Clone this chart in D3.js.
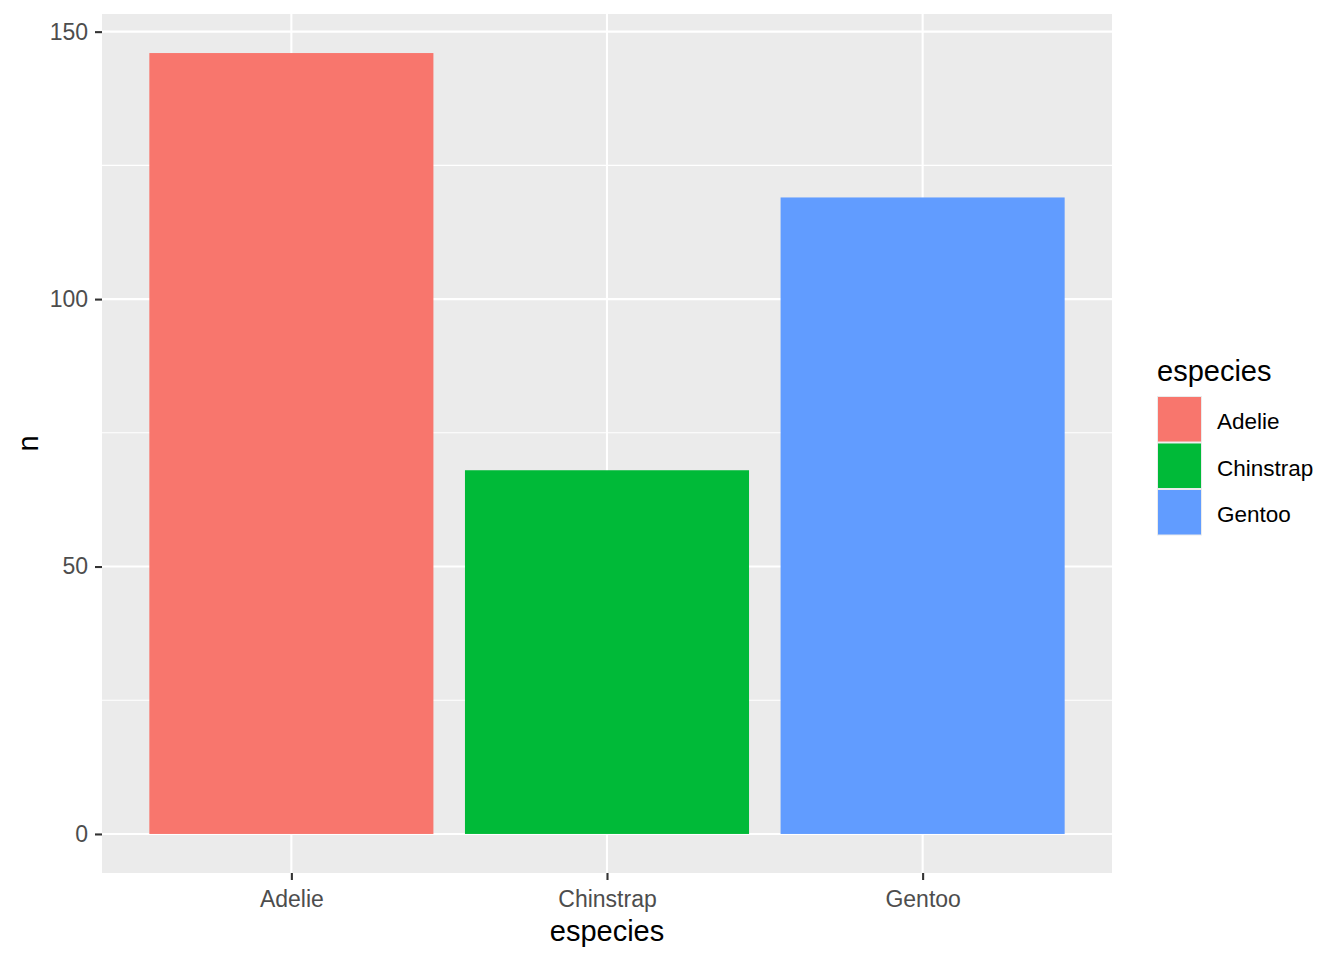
<!DOCTYPE html>
<html>
<head>
<meta charset="utf-8">
<script src="https://cdn.jsdelivr.net/npm/d3@7"></script>
<style>
  body { margin: 0; background: #fff; }
  text { font-family: "Liberation Sans", Arial, sans-serif; }
</style>
</head>
<body>
<svg width="1344" height="960"></svg>
<script>
// data
var especies = ["Adelie", "Chinstrap", "Gentoo"];
var counts = [146, 68, 119];
var colors = ["#F8766D", "#00BA38", "#619CFF"];
var yTicks = [0, 50, 100, 150];
var yMinor = [25, 75, 125];

var svg = d3.select("svg");

var panel = {left: 102, top: 14, right: 1112, bottom: 873};

var maxN = d3.max(counts);
var pad = maxN * 0.05;

var y = d3.scaleLinear()
    .domain([-pad, maxN + pad])
    .range([panel.bottom, panel.top]);

var x = d3.scaleLinear()
    .domain([0.4, especies.length + 0.6])
    .range([panel.left, panel.right]);

// panel background
svg.append("rect")
    .attr("x", panel.left)
    .attr("y", panel.top)
    .attr("width", panel.right - panel.left)
    .attr("height", panel.bottom - panel.top)
    .attr("fill", "#EBEBEB");

var grid = svg.append("g");

grid.selectAll(".minor")
    .data(yMinor)
    .enter()
    .append("line")
    .attr("x1", panel.left)
    .attr("x2", panel.right)
    .attr("y1", d => y(d))
    .attr("y2", d => y(d))
    .attr("stroke", "#fff")
    .attr("stroke-width", 1.1);

grid.selectAll(".major")
    .data(yTicks)
    .enter()
    .append("line")
    .attr("x1", panel.left)
    .attr("x2", panel.right)
    .attr("y1", d => y(d))
    .attr("y2", d => y(d))
    .attr("stroke", "#fff")
    .attr("stroke-width", 2.1);

grid.selectAll(".vmajor")
    .data(especies)
    .enter()
    .append("line")
    .attr("x1", (d, i) => x(i + 1))
    .attr("x2", (d, i) => x(i + 1))
    .attr("y1", panel.top)
    .attr("y2", panel.bottom)
    .attr("stroke", "#fff")
    .attr("stroke-width", 2.1);

// bars
svg.append("g")
    .selectAll("rect")
    .data(especies)
    .enter()
    .append("rect")
    .attr("x", (d, i) => x(i + 1 - 0.45))
    .attr("width", (d, i) => x(i + 1 + 0.45) - x(i + 1 - 0.45))
    .attr("y", (d, i) => y(counts[i]))
    .attr("height", (d, i) => y(0) - y(counts[i]))
    .attr("fill", (d, i) => colors[i]);

// y axis
var yAxis = svg.append("g")
    .attr("transform", `translate(${panel.left},0)`)
    .call(d3.axisLeft(y).tickValues(yTicks).tickSize(7).tickPadding(7));
yAxis.select(".domain").remove();
yAxis.selectAll("line").attr("stroke", "#333").attr("stroke-width", 2.1);
yAxis.selectAll("text")
    .attr("fill", "#4D4D4D")
    .attr("font-size", 23)
    .attr("font-family", "Liberation Sans, Arial, sans-serif");

// x axis
var xAxis = svg.append("g")
    .attr("transform", `translate(0,${panel.bottom})`)
    .call(d3.axisBottom(x)
        .tickValues(especies.map((d, i) => i + 1))
        .tickFormat((d, i) => especies[i])
        .tickSize(7).tickPadding(11));
xAxis.select(".domain").remove();
xAxis.selectAll("line").attr("stroke", "#333").attr("stroke-width", 2.1);
xAxis.selectAll("text")
    .attr("fill", "#4D4D4D")
    .attr("font-size", 23)
    .attr("font-family", "Liberation Sans, Arial, sans-serif");

// axis titles
svg.append("text")
    .attr("x", (panel.left + panel.right) / 2)
    .attr("y", 941)
    .attr("text-anchor", "middle")
    .attr("font-size", 29)
    .attr("fill", "#000")
    .text("especies");

svg.append("text")
    .attr("transform", `translate(38,${(panel.top + panel.bottom) / 2}) rotate(-90)`)
    .attr("text-anchor", "middle")
    .attr("font-size", 29)
    .attr("fill", "#000")
    .text("n");

// legend
var legend = svg.append("g").attr("transform", "translate(1157,0)");

legend.append("text")
    .attr("x", 0)
    .attr("y", 381)
    .attr("font-size", 29)
    .attr("fill", "#000")
    .text("especies");

var keyH = 46.5, keyW = 45, keyTop = 396;

var keys = legend.selectAll(".key")
    .data(especies)
    .enter()
    .append("g")
    .attr("transform", (d, i) => `translate(0,${keyTop + i * keyH})`);

keys.append("rect")
    .attr("width", keyW)
    .attr("height", keyH)
    .attr("fill", "#EBEBEB");

keys.append("rect")
    .attr("x", 1)
    .attr("y", 1)
    .attr("width", keyW - 2)
    .attr("height", keyH - 2)
    .attr("fill", (d, i) => colors[i]);

keys.append("text")
    .attr("x", 60)
    .attr("y", keyH / 2 + 10)
    .attr("font-size", 22.5)
    .attr("fill", "#000")
    .text(d => d);
</script>
</body>
</html>
